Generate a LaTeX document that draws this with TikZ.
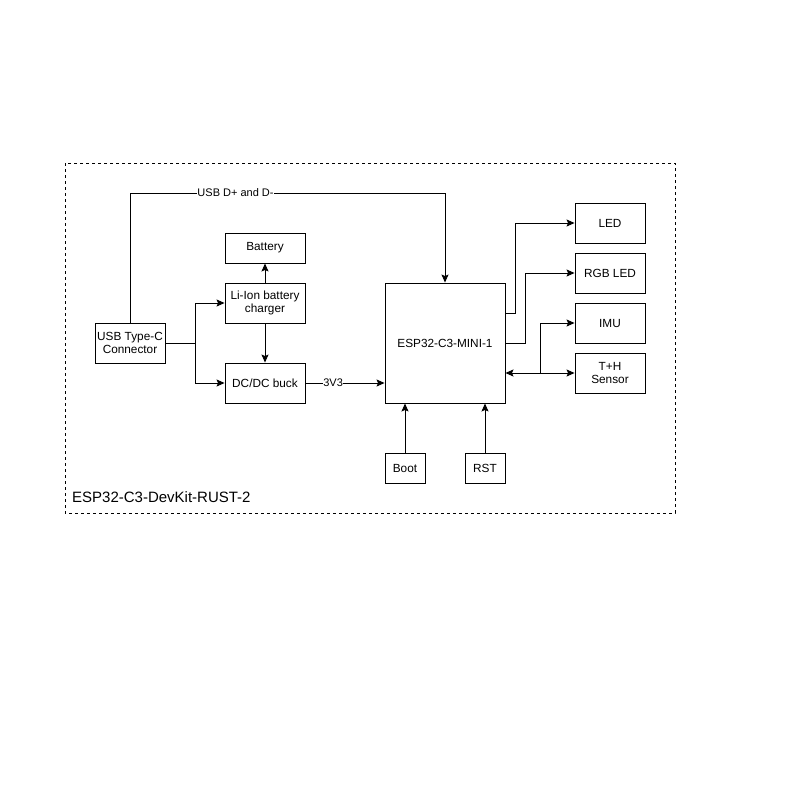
\documentclass[tikz,border=0pt]{standalone}
\usepackage{fontspec}
\setmainfont{Liberation Sans}
\usetikzlibrary{arrows.meta}
\begin{document}
\begin{tikzpicture}[x=1pt,y=-1pt,
  blk/.style={draw,line width=0.9pt,inner sep=0pt,align=center,font=\fontsize{11.8}{13.5}\selectfont},
  conn/.style={line width=0.9pt,-{Stealth[length=8pt,width=7pt,inset=1.5pt]}},
  bconn/.style={line width=0.9pt,{Stealth[length=8pt,width=7pt,inset=1.5pt]}-{Stealth[length=8pt,width=7pt,inset=1.5pt]}},
  lbl/.style={fill=white,inner sep=0.5pt,font=\fontsize{11}{12}\selectfont}]
\useasboundingbox (0,0) rectangle (800,800);
\fill[white] (0,0) rectangle (800,800);
\draw[dashed,line width=0.7pt] (65,163) rectangle (675,513);
\node[anchor=west,inner sep=0pt,font=\fontsize{15}{17}\selectfont] (title) at (72,497) {ESP32-C3-DevKit-RUST-2};
\node[blk,minimum width=70pt,minimum height=40pt] (usb) at (130,343) {USB Type-C\\Connector};
\node[blk,minimum width=80pt,minimum height=30pt] (bat) at (265,248) {Battery};
\node[blk,minimum width=80pt,minimum height=40pt] (chg) at (265,303) {Li-Ion battery\\charger};
\node[blk,minimum width=80pt,minimum height=40pt] (dc) at (265,383) {DC/DC buck};
\node[blk,minimum width=120pt,minimum height=120pt] (esp) at (445,343) {ESP32-C3-MINI-1};
\node[blk,minimum width=70pt,minimum height=40pt] (led) at (610,223) {LED};
\node[blk,minimum width=70pt,minimum height=40pt] (rgb) at (610,273) {RGB LED};
\node[blk,minimum width=70pt,minimum height=40pt] (imu) at (610,323) {IMU};
\node[blk,minimum width=70pt,minimum height=40pt] (th) at (610,373) {T+H\\Sensor};
\node[blk,minimum width=40pt,minimum height=30pt] (boot) at (405,468) {Boot};
\node[blk,minimum width=40pt,minimum height=30pt] (rst) at (485,468) {RST};
\coordinate (split) at (195,343);
\coordinate (bus) at (540,373);
\draw[conn] (usb.north) -- (130,193) -- node[lbl,pos=0.335]{USB D+ and D-} (445,193) -- (esp.north);
\draw[line width=0.9pt] (usb.east) -- (split);
\draw[conn] (split) |- (chg.west);
\draw[conn] (split) |- (dc.west);
\draw[conn] (chg.north) -- (bat.south);
\draw[conn] (chg.south) -- (dc.north);
\draw[conn] (dc.east) -- node[lbl,pos=0.35]{3V3} (esp.west |- dc.east);
\draw[conn] (esp.east |- 0,313) -- (515,313) |- (led.west);
\draw[conn] (esp.east |- 0,343) -- (525,343) |- (rgb.west);
\draw[bconn] (esp.east |- th.west) -- (th.west);
\draw[conn] (bus) |- (imu.west);
\draw[conn] (boot.north) -- (boot.north |- esp.south);
\draw[conn] (rst.north) -- (rst.north |- esp.south);
\end{tikzpicture}
\end{document}
